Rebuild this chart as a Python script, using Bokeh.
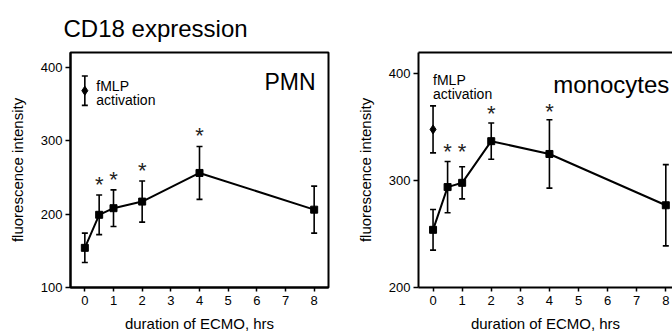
from bokeh.plotting import figure
from bokeh.models import (ColumnDataSource, Whisker, TeeHead, LinearAxis,
                          FixedTicker, Range1d)
from bokeh.layouts import row
from bokeh.embed import file_html
from bokeh.resources import INLINE
from bokeh.core.properties import value

# ---- data ----
hours = [0, 0.5, 1, 2, 4, 8]
pmn_mean = [154, 199, 208, 217, 256, 206]
pmn_err = [20, 27, 25, 28, 36, 32]
mono_mean = [254, 294, 298, 337, 325, 277]
mono_err = [19, 24, 15, 17, 32, 38]
fmlp_hour = [0]
pmn_fmlp_mean = [368]
pmn_fmlp_err = [20]
mono_fmlp_mean = [348]
mono_fmlp_err = [22]
sig_hours = [0.5, 1, 2, 4]
pmn_star_y = [240, 247, 259, 307]
mono_star_y = [327, 327, 363, 365]
x_ticks = [0, 1, 2, 3, 4, 5, 6, 7, 8]
pmn_y_ticks = [100, 200, 300, 400]
mono_y_ticks = [200, 300, 400]

FONT = "Liberation Sans"


def style_axis(ax, ticks, label, is_y):
    ax.ticker = FixedTicker(ticks=ticks)
    ax.axis_label = label
    ax.axis_label_text_font = FONT
    ax.axis_label_text_font_style = "normal"
    ax.axis_label_text_font_size = "15px"
    ax.axis_label_text_color = "black"
    ax.major_label_text_font = FONT
    ax.major_label_text_font_size = "13px"
    ax.major_label_text_color = "black"
    ax.axis_line_width = 2
    ax.axis_line_color = "black"
    ax.major_tick_line_width = 1.5
    ax.major_tick_line_color = "black"
    ax.major_tick_in = 0
    ax.minor_tick_line_color = None
    if is_y:
        ax.major_tick_out = 5
        ax.major_label_standoff = 3
        ax.axis_label_standoff = 12
    else:
        ax.major_tick_out = 4
        ax.major_label_standoff = 4
        ax.axis_label_standoff = 7


def panel(width, height, xr, yr, mb, means, errs, fm, fe, stars, yticks):
    p = figure(width=width, height=height, x_range=xr, y_range=yr,
               output_backend="svg", toolbar_location=None,
               min_border_left=mb[0], min_border_right=mb[1],
               min_border_top=mb[2], min_border_bottom=mb[3])
    p.grid.visible = False
    p.background_fill_color = "white"
    p.border_fill_color = "white"
    style_axis(p.xaxis[0], x_ticks, "duration of ECMO, hrs", False)
    style_axis(p.yaxis[0], yticks, "fluorescence intensity", True)

    src = ColumnDataSource(dict(
        x=hours, y=means,
        upper=[m + e for m, e in zip(means, errs)],
        lower=[m - e for m, e in zip(means, errs)]))
    fsrc = ColumnDataSource(dict(
        x=fmlp_hour, y=fm,
        upper=[m + e for m, e in zip(fm, fe)],
        lower=[m - e for m, e in zip(fm, fe)]))
    for s in (src, fsrc):
        p.add_layout(Whisker(base="x", upper="upper", lower="lower", source=s,
                             line_width=1.6, line_color="black",
                             upper_head=TeeHead(size=6, line_width=1.6),
                             lower_head=TeeHead(size=6, line_width=1.6)))
    p.line("x", "y", source=src, line_width=2, line_color="black")
    p.scatter("x", "y", source=src, marker="square", size=7,
              fill_color="black", line_color="black")
    p.scatter("x", "y", source=fsrc, marker="diamond", size=9,
              fill_color="black", line_color="black")
    p.text(x=sig_hours, y=stars, text=["*"] * len(sig_hours),
           text_font=value(FONT), text_font_size="22px",
           text_align="center", text_baseline="alphabetic", y_offset=0,
           text_color="#222222")
    return p


p1 = panel(350, 335, Range1d(-0.5, 8.5), Range1d(100, 420), (70, 22, 52, 48),
           pmn_mean, pmn_err, pmn_fmlp_mean, pmn_fmlp_err, pmn_star_y, pmn_y_ticks)
p1.outline_line_color = "black"
p1.outline_line_width = 2
p1.title.text = "CD18 expression"
p1.title.text_font = FONT
p1.title.text_font_size = "24px"
p1.title.text_font_style = "normal"
p1.title.text_color = "black"
p1.title.align = "left"
p1.title.offset = -7
p1.title.standoff = 22
p1.text(x=[0.4, 0.4], y=[374, 355], text=["fMLP", "activation"],
        text_font=value(FONT), text_font_size="14px", text_baseline="alphabetic")
p1.text(x=[8.05], y=[380], text=["PMN"], text_font=value(FONT),
        text_font_size="23px", text_align="right", text_baseline="alphabetic")

p2 = panel(322, 335, Range1d(-0.5, 8.23), Range1d(200, 420), (68, 0, 49, 46),
           mono_mean, mono_err, mono_fmlp_mean, mono_fmlp_err, mono_star_y, mono_y_ticks)
p2.outline_line_color = None
top = LinearAxis(axis_line_width=2, axis_line_color="black",
                 major_tick_line_color=None, minor_tick_line_color=None,
                 major_label_text_font_size="0px", major_label_text_color=None)
p2.add_layout(top, "above")
p2.text(x=[0, 0], y=[394, 381], text=["fMLP", "activation"],
        text_font=value(FONT), text_font_size="14px", text_baseline="alphabetic")
p2.text(x=[8.12], y=[390], text=["monocytes"], text_font=value(FONT),
        text_font_size="24px", text_align="right", text_baseline="alphabetic")

layout = row(p1, p2)
open("out.html", "w").write(file_html(layout, INLINE))
